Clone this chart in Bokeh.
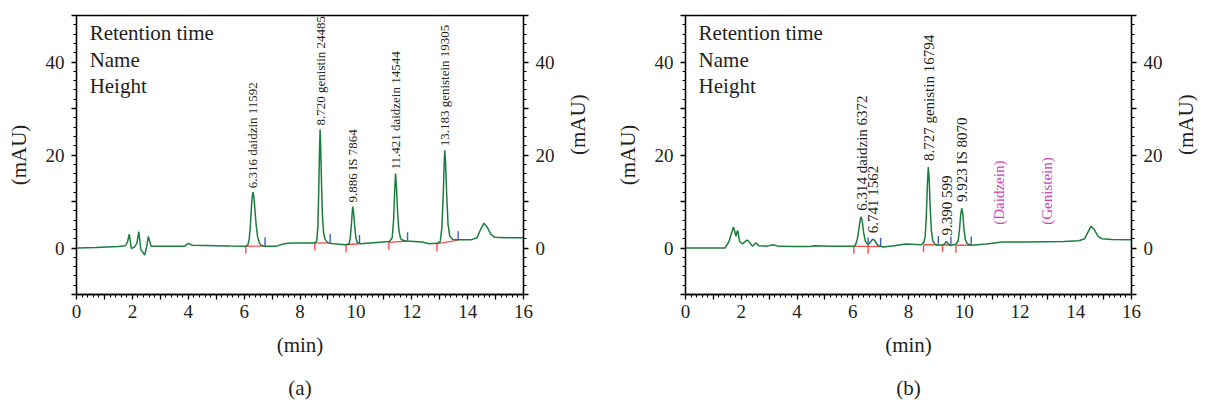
import math
from bokeh.plotting import figure
from bokeh.layouts import row
from bokeh.models import FixedTicker, LinearAxis, Label, Range1d
from bokeh.core.properties import value
from bokeh.embed import file_html
from bokeh.resources import INLINE

# ---------------- data ----------------
# Panel (a): standard mixture chromatogram
time_a = [0, 0.7, 1.5, 1.75, 1.82, 1.89, 1.96, 2.07, 2.16, 2.23, 2.30, 2.44, 2.51, 2.57, 2.67,
          3.87, 4.01, 4.15, 5.5, 6.06, 6.13, 6.18, 6.22, 6.26, 6.29, 6.32, 6.35, 6.39, 6.43, 6.48,
          6.55, 6.62, 6.75, 7.16, 7.43, 7.7, 8.52, 8.6, 8.64, 8.67, 8.70, 8.72, 8.74, 8.77, 8.8,
          8.84, 8.9, 9.0, 9.2, 9.62, 9.76, 9.8, 9.84, 9.87, 9.89, 9.92, 9.96, 10.0, 10.05, 10.17,
          10.85, 11.2, 11.3, 11.35, 11.39, 11.42, 11.45, 11.49, 11.54, 11.6, 11.7, 11.81, 12.36,
          12.63, 12.9, 13.02, 13.08, 13.13, 13.16, 13.18, 13.21, 13.25, 13.3, 13.36, 13.45, 13.52,
          14.14, 14.34, 14.45, 14.58, 14.7, 14.83, 14.97, 15.4, 16]
mau_a = [0, 0.1, 0.3, 0.5, 1.2, 3.0, -0.1, 0.2, 1.0, 3.5, -0.3, -1.5, 0.2, 2.5, 0.4,
         0.4, 1.0, 0.6, 0.45, 0.4, 0.6, 1.8, 4.5, 8.5, 11.2, 12.0, 11.0, 8.0, 5.0, 2.5,
         1.0, 0.55, 0.35, 0.4, 0.9, 1.05, 1.05, 1.5, 4.5, 12.0, 21.5, 25.5, 22.0, 14.0, 7.5,
         3.5, 1.8, 1.1, 0.9, 0.7, 0.9, 2.2, 5.0, 7.8, 8.9, 7.5, 4.5, 2.2, 1.2, 0.9,
         1.25, 1.4, 2.2, 6.0, 12.5, 16.0, 13.5, 8.0, 3.8, 2.0, 1.6, 1.5, 1.3,
         0.9, 1.0, 1.4, 4.5, 12.0, 18.0, 21.0, 18.5, 11.5, 5.0, 2.6, 1.9, 1.8,
         1.8, 2.2, 3.8, 5.3, 4.5, 3.0, 2.3, 2.2, 2.2]
peak_rt_a = [6.316, 8.720, 9.886, 11.421, 13.183]
peak_h_a = [12.0, 25.5, 8.9, 16.0, 21.0]
peak_txt_a = ["6.316 daidzin 11592", "8.720 genistin 24485", "9.886 IS 7864",
              "11.421 daidzein 14544", "13.183 genistein 19305"]
base_t0_a = [6.06, 8.53, 9.65, 11.18, 12.9]
base_t1_a = [6.75, 9.08, 10.13, 11.85, 13.66]
base_y0_a = [0.4, 1.05, 0.7, 1.2, 0.9]
base_y1_a = [0.4, 1.1, 0.9, 1.5, 1.7]

# Panel (b): sample chromatogram
time_b = [0, 1.42, 1.56, 1.65, 1.72, 1.77, 1.81, 1.85, 1.88, 1.94, 2.04, 2.14, 2.22, 2.3, 2.41,
          2.47, 2.52, 2.63, 2.94, 3.14, 3.35, 3.9, 4.46, 4.59, 5.28, 6.04, 6.1, 6.16, 6.22, 6.27,
          6.3, 6.34, 6.39, 6.45, 6.52, 6.57, 6.64, 6.7, 6.74, 6.8, 6.88, 6.95, 7.08, 7.49, 7.9,
          8.46, 8.55, 8.6, 8.64, 8.68, 8.71, 8.74, 8.78, 8.82, 8.87, 8.95, 9.05, 9.26, 9.32, 9.36,
          9.41, 9.49, 9.7, 9.78, 9.83, 9.87, 9.91, 9.95, 9.99, 10.04, 10.1, 10.22, 10.8, 11.35,
          12.18, 13.56, 14.11, 14.32, 14.42, 14.55, 14.66, 14.8, 14.94, 15.3, 16]
mau_b = [0, 0, 1.4, 3.2, 4.5, 3.5, 2.5, 3.5, 3.7, 1.4, 0.9, 1.4, 1.7, 1.2, 0.35,
         0.8, 1.1, 0.5, 0.4, 0.7, 0.35, 0.3, 0.3, 0.5, 0.4, 0.35, 0.7, 1.8, 4.0, 6.2,
         6.7, 5.8, 3.3, 1.5, 0.9, 0.85, 1.3, 1.8, 1.9, 1.5, 0.7, 0.45, 0.2, 0.5, 0.85,
         0.7, 1.2, 2.5, 7.0, 14.0, 17.4, 15.0, 8.5, 3.8, 1.6, 0.8, 0.6, 0.7, 1.1, 1.4,
         1.0, 0.56, 0.8, 1.5, 4.0, 7.0, 8.6, 7.2, 4.0, 1.8, 1.0, 0.6, 0.85, 1.27,
         1.27, 1.4, 1.55, 2.0, 3.2, 4.7, 4.0, 2.5, 2.0, 1.85, 1.8]
peak_rt_b = [6.314, 6.741, 8.727, 9.390, 9.923]
peak_h_b = [6.7, 1.9, 17.4, 1.4, 8.6]
peak_txt_b = ["6.314 daidzin 6372", "6.741 1562", "8.727 genistin 16794",
              "9.390 599", "9.923 IS 8070"]
absent_rt_b = [11.26, 12.98]
absent_h_b = [5.0, 5.0]
absent_txt_b = ["(Daidzein)", "(Genistein)"]
base_t0_b = [6.04, 6.55, 8.54, 9.22, 9.7]
base_t1_b = [6.55, 7.0, 9.07, 9.52, 10.25]
base_y0_b = [0.35, 0.35, 0.7, 0.7, 0.6]
base_y1_b = [0.35, 0.3, 0.7, 0.6, 0.6]

legend_lines = ["Retention time", "Name", "Height"]
legend_y = [46.2, 40.5, 34.8]

x_major = list(range(0, 17))
x_labels = {t: (str(t) if t % 2 == 0 else "") for t in x_major}
x_minor = [round(i * 0.2, 1) for i in range(0, 81)]
y_major = [-10, 0, 10, 20, 30, 40, 50]
y_labels = {-10: "", 0: "0", 10: "", 20: "20", 30: "", 40: "40", 50: ""}
y_minor = list(range(-10, 51, 2))

# ---------------- styling ----------------
FONT = "Liberation Serif"
INK = "#231f20"
GREEN = "#1b7d3e"
RED = "#ff4a4a"
BLUE = "#3c5cc4"
MAGENTA = "#c944b4"


def style_axis(ax, ticks, minor, labels):
    ax.ticker = FixedTicker(ticks=ticks, minor_ticks=minor)
    ax.major_label_overrides = labels
    ax.major_label_text_font = FONT
    ax.major_label_text_font_size = "19px"
    ax.major_label_text_color = INK
    ax.axis_label_text_font = FONT
    ax.axis_label_text_font_size = "21px"
    ax.axis_label_text_font_style = "normal"
    ax.axis_label_text_color = INK
    ax.axis_line_color = "black"
    ax.axis_line_width = 1.3
    ax.major_tick_line_color = "black"
    ax.minor_tick_line_color = "black"
    ax.major_tick_line_width = 1.3
    ax.minor_tick_line_width = 1.1
    ax.major_tick_in = 0
    ax.major_tick_out = 5
    ax.minor_tick_in = 0
    ax.minor_tick_out = 3
    ax.major_label_standoff = 7


def panel(t, v, rt, h, txt, t0, t1, y0, y1, tag, borders, label_px, label_off,
          absent=None):
    bl, br, bt, bb = borders
    p = figure(width=606, height=404, x_range=Range1d(0, 16), y_range=Range1d(-10, 50),
               output_backend="svg", toolbar_location=None,
               min_border_left=bl, min_border_right=br, min_border_top=bt,
               min_border_bottom=bb)
    p.xgrid.visible = False
    p.ygrid.visible = False
    p.outline_line_color = "black"
    p.outline_line_width = 1.3
    p.background_fill_color = "white"

    style_axis(p.xaxis[0], x_major, x_minor, x_labels)
    p.xaxis[0].major_label_standoff = 5
    p.xaxis[0].axis_label = "(min)\n\n" + tag
    p.xaxis[0].axis_label_text_line_height = 0.9
    p.xaxis[0].axis_label_standoff = 12
    style_axis(p.yaxis[0], y_major, y_minor, y_labels)
    p.yaxis[0].axis_label = "(mAU)"
    p.yaxis[0].axis_label_standoff = 12
    right = LinearAxis(axis_label="(mAU)")
    style_axis(right, y_major, y_minor, y_labels)
    right.axis_label_standoff = 20
    right.axis_label_orientation = math.pi / 2
    p.add_layout(right, "right")

    # integration baselines: red start ticks, blue end ticks
    p.segment(x0=t0, y0=y0, x1=t1, y1=y1, line_color=RED, line_width=1.4)
    p.segment(x0=t0, y0=y0, x1=t0, y1=[y - 1.6 for y in y0], line_color=RED, line_width=1.4)
    p.segment(x0=t1, y0=[y + 0.1 for y in y1], x1=t1, y1=[y + 1.9 for y in y1],
              line_color=BLUE, line_width=1.4)

    p.line(t, v, line_color=GREEN, line_width=1.5)

    p.text(x=rt, y=h, text=txt, angle=math.pi / 2, text_align="left", text_baseline="middle",
           y_offset=label_off, text_font=value(FONT), text_font_size=label_px,
           text_color=INK)
    if absent is not None:
        ax, ay, at = absent
        p.text(x=ax, y=ay, text=at, angle=math.pi / 2, text_align="left",
               text_baseline="middle", text_font=value(FONT), text_font_size=label_px,
               text_color=MAGENTA)

    for line, ly in zip(legend_lines, legend_y):
        p.add_layout(Label(x=0.47, y=ly, text=line, text_font=FONT, text_font_size="21px",
                           text_color=INK, text_baseline="alphabetic"))
    return p


pa = panel(time_a, mau_a, peak_rt_a, peak_h_a, peak_txt_a, base_t0_a, base_t1_a, base_y0_a,
           base_y1_a, "(a)", (76, 83, 15, 109), "13px", -4)
pb = panel(time_b, mau_b, peak_rt_b, peak_h_b, peak_txt_b, base_t0_b, base_t1_b, base_y0_b,
           base_y1_b, "(b)", (79, 76, 11, 110), "15px", -6,
           absent=(absent_rt_b, absent_h_b, absent_txt_b))

layout = row(pa, pb)
open("out.html", "w").write(file_html(layout, INLINE))
